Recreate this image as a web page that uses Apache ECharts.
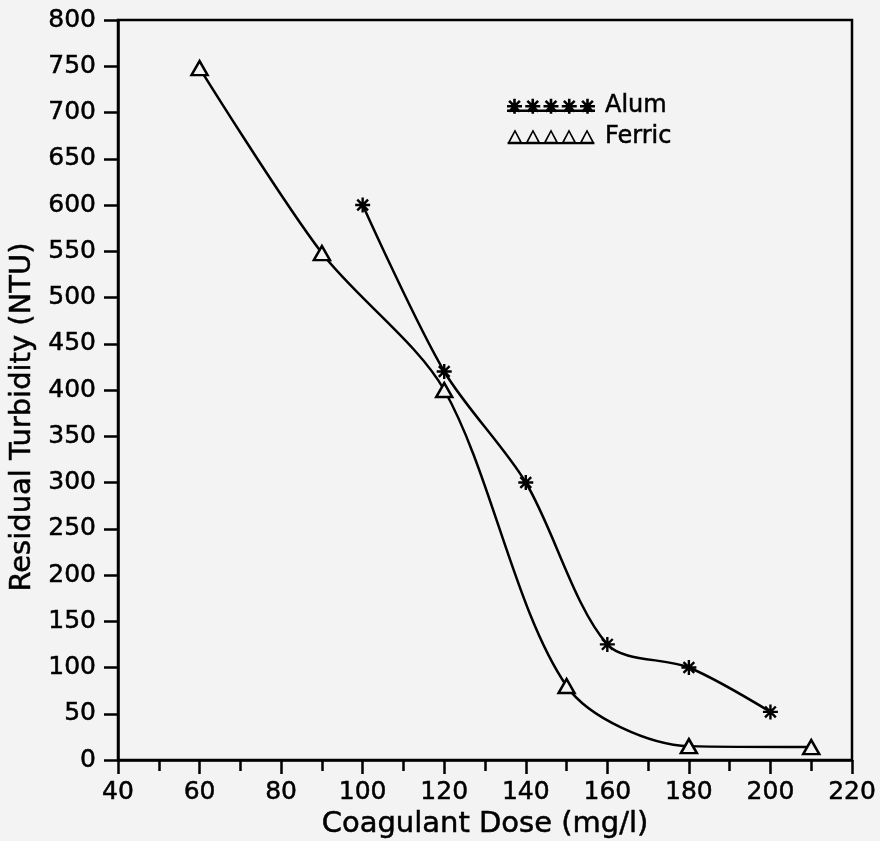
<!DOCTYPE html>
<html><head><meta charset="utf-8">
<script src="https://cdn.jsdelivr.net/npm/echarts@6/dist/echarts.min.js"></script>
<style>html,body{margin:0;padding:0;background:#f3f3f3}#c{width:880px;height:841px}</style>
</head><body><div id="c"></div>
<script>
// ---- data ----
const seriesNames = ['Alum', 'Ferric'];
const alumDose = [100, 120, 140, 160, 180, 200];
const alumTurbidity = [600, 420, 300, 125, 100, 52];
const ferricDose = [60, 90, 120, 150, 180, 210];
const ferricTurbidity = [748, 548, 400, 80, 15, 14];
const xTickRange = [40, 220, 20];   // min, max, interval
const yTickRange = [0, 800, 50];
const xTitle = 'Coagulant Dose (mg/l)';
const yTitle = 'Residual Turbidity (NTU)';

// ---- symbol helpers (style only) ----
function ring(pts, positive) {
  let a = 0;
  for (let i = 0; i < pts.length; i++) {
    const p = pts[i], q = pts[(i + 1) % pts.length];
    a += p[0] * q[1] - q[0] * p[1];
  }
  if ((a > 0) !== positive) pts = pts.slice().reverse();
  return 'M' + pts.map(p => p[0].toFixed(2) + ' ' + p[1].toFixed(2)).join(' L') + ' Z ';
}
function bar(x1, y1, x2, y2, h) {
  const dx = x2 - x1, dy = y2 - y1, L = Math.hypot(dx, dy);
  const nx = -dy / L * h, ny = dx / L * h;
  return ring([[x1 + nx, y1 + ny], [x2 + nx, y2 + ny], [x2 - nx, y2 - ny], [x1 - nx, y1 - ny]], true);
}
function asterisk(cx, cy, r, h) {
  const d = r * 0.72;
  return bar(cx - r, cy, cx + r, cy, h) + bar(cx, cy - r, cx, cy + r, h) +
         bar(cx - d, cy - d, cx + d, cy + d, h) + bar(cx - d, cy + d, cx + d, cy - d, h);
}
function hollowTri(cx, w, ht, t) {
  const hw = w / 2;
  return ring([[cx, 0], [cx + hw, ht], [cx - hw, ht]], true) +
         ring([[cx, t * 2.3], [cx + hw - t * 1.9, ht - t], [cx - hw + t * 1.9, ht - t]], false);
}
const starSymbol = 'path://' + asterisk(10, 10, 10, 1.6);
let alumIcon = '';
for (let i = 0; i < 5; i++) alumIcon += asterisk(7.5 + i * 18.25, 7.5, 7.5, 1.3);
alumIcon += bar(0, 12, 88, 12, 1.2);
let ferricIcon = '';
for (let i = 0; i < 5; i++) ferricIcon += hollowTri(7.5 + i * 18.25, 15, 14, 1.4);
ferricIcon += bar(0, 14, 88, 14, 1.2);

const font = 'DejaVu Sans';
const ink = '#000';
const bg = '#f3f3f3';
const txt = (size) => ({fontFamily: font, fontSize: size, color: ink, textBorderColor: ink, textBorderWidth: 0.5});

const chart = echarts.init(document.getElementById('c'), null, {renderer: 'canvas'});
chart.setOption({
  backgroundColor: bg,
  animation: false,
  grid: {left: 118, right: 28, top: 20, bottom: 81, outerBoundsMode: 'none', containLabel: false,
         show: true, borderColor: ink, borderWidth: 2.5, backgroundColor: 'transparent'},
  legend: {
    orient: 'vertical', left: 507, top: 94, padding: 0, itemWidth: 88, itemHeight: 15, itemGap: 6,
    textStyle: Object.assign(txt(24), {lineHeight: 24, padding: [0, 0, 0, 5]}),
    itemStyle: {color: ink, borderWidth: 0},
    data: [
      {name: seriesNames[0], icon: 'path://' + alumIcon, itemStyle: {color: ink, borderWidth: 0}},
      {name: seriesNames[1], icon: 'path://' + ferricIcon, itemStyle: {color: ink, borderWidth: 0}}
    ]
  },
  xAxis: {
    type: 'value', min: xTickRange[0], max: xTickRange[1], interval: xTickRange[2],
    axisLine: {show: true, lineStyle: {color: ink, width: 2.5}},
    axisTick: {show: true, length: 14, lineStyle: {color: ink, width: 2.5}},
    minorTick: {show: true, splitNumber: 2, length: 11, lineStyle: {color: ink, width: 2.5}},
    splitLine: {show: false},
    axisLabel: Object.assign(txt(25), {margin: 20}),
    name: xTitle, nameLocation: 'middle', nameGap: 48,
    nameTextStyle: txt(29)
  },
  yAxis: {
    type: 'value', min: yTickRange[0], max: yTickRange[1], interval: yTickRange[2],
    axisLine: {show: true, lineStyle: {color: ink, width: 2.5}},
    axisTick: {show: true, length: 14, lineStyle: {color: ink, width: 2.5}},
    splitLine: {show: false},
    axisLabel: Object.assign(txt(25), {margin: 22}),
    name: yTitle, nameLocation: 'middle', nameGap: 81,
    nameTextStyle: Object.assign(txt(29), {padding: [0, 54, 0, 0]})
  },
  series: [
    {
      name: seriesNames[0], type: 'line', smooth: 0.3,
      data: alumDose.map((x, i) => [x, alumTurbidity[i]]),
      symbol: starSymbol, symbolSize: 15,
      itemStyle: {color: ink},
      lineStyle: {color: ink, width: 2.5}
    },
    {
      name: seriesNames[1], type: 'line', smooth: 0.3,
      data: ferricDose.map((x, i) => [x, ferricTurbidity[i]]),
      symbol: 'triangle', symbolSize: [16, 14],
      itemStyle: {color: bg, borderColor: ink, borderWidth: 2.5},
      lineStyle: {color: ink, width: 2.5}
    }
  ]
});
</script>
</body></html>
